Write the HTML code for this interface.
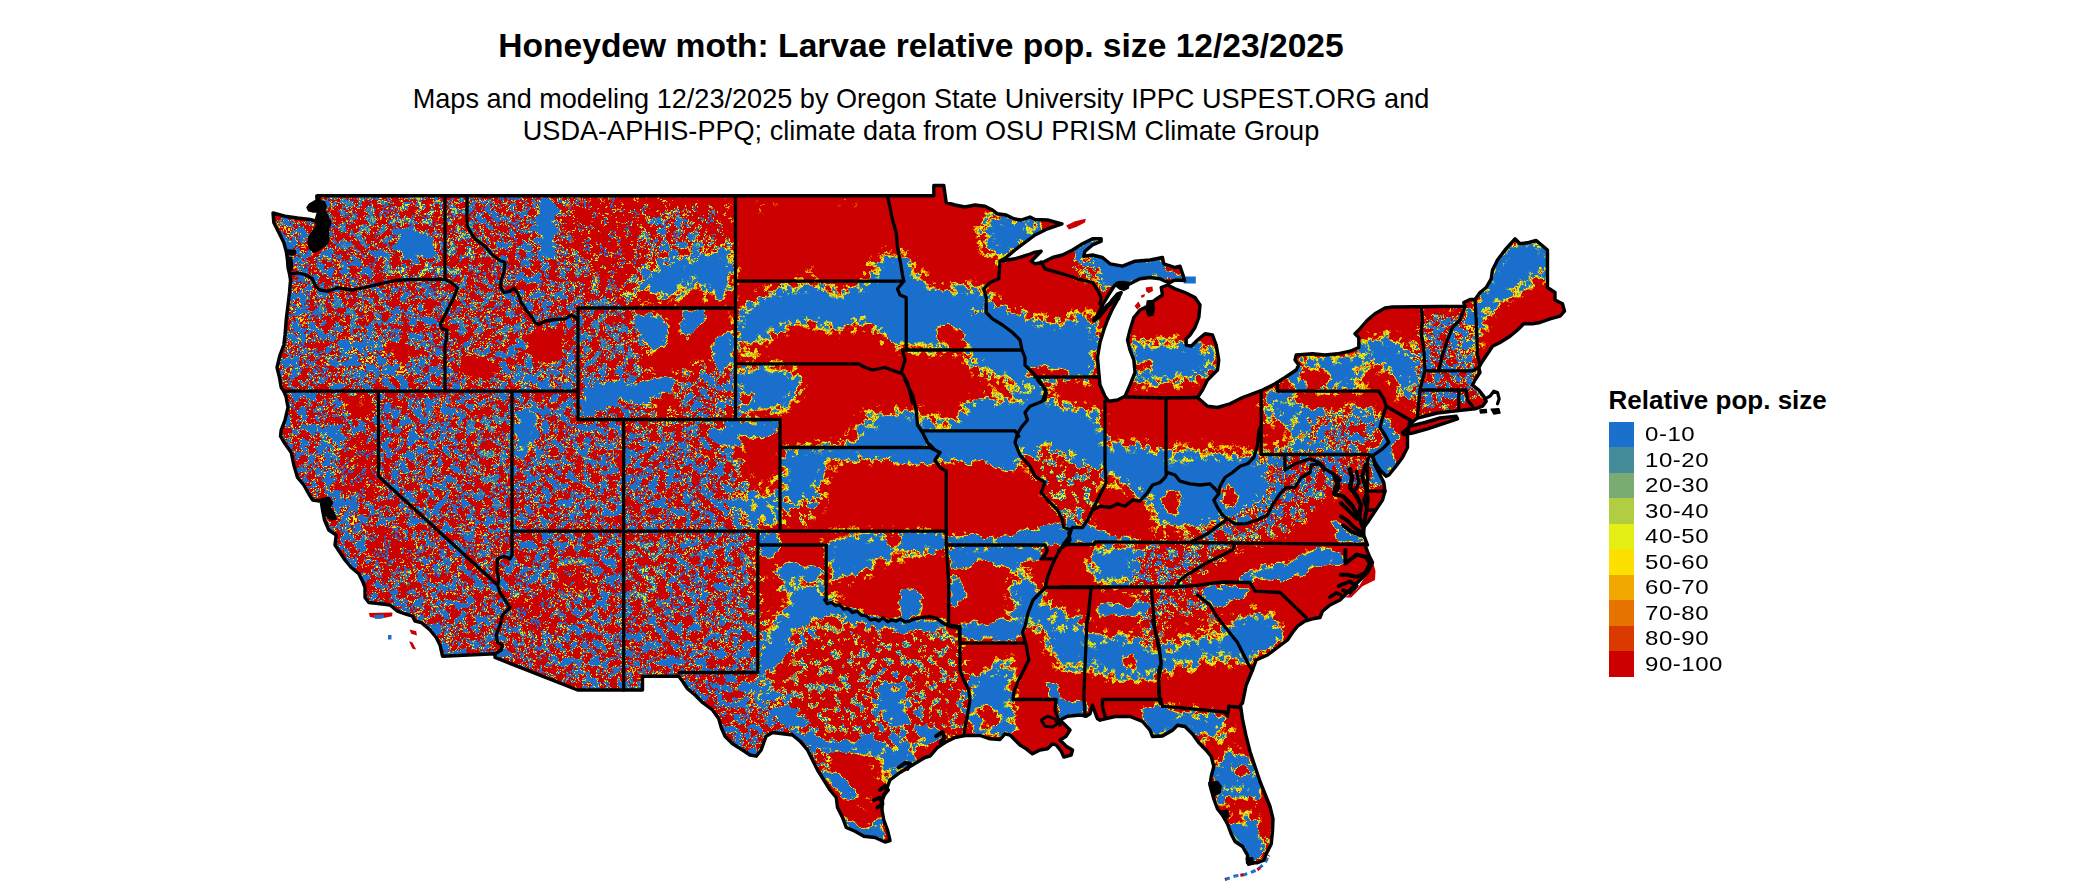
<!DOCTYPE html>
<html><head><meta charset="utf-8"><title>Honeydew moth</title>
<style>
html,body{margin:0;padding:0;background:#fff;}
body{width:2100px;height:892px;position:relative;overflow:hidden;font-family:"Liberation Sans",sans-serif;color:#000;}
#title{position:absolute;left:0;width:1842px;top:27px;text-align:center;font-size:33.6px;font-weight:bold;line-height:38px;white-space:nowrap;}
#sub{position:absolute;left:0;width:1842px;top:83px;text-align:center;font-size:27.1px;line-height:32px;white-space:nowrap;}
#lt{position:absolute;left:1608.6px;top:385px;font-size:26px;font-weight:bold;line-height:30px;white-space:nowrap;}
.sw{position:absolute;left:1609px;width:25px;height:25.6px;}
.lb{position:absolute;left:1645px;font-size:21px;line-height:26px;letter-spacing:0.45px;white-space:nowrap;transform:scaleX(1.145);transform-origin:0 0;}
svg{position:absolute;left:0;top:0;}
</style></head><body>
<div id="title">Honeydew moth: Larvae relative pop. size 12/23/2025</div>
<div id="sub">Maps and modeling 12/23/2025 by Oregon State University IPPC USPEST.ORG and<br>USDA-APHIS-PPQ; climate data from OSU PRISM Climate Group</div>
<svg width="2100" height="892" viewBox="0 0 2100 892">
<defs>
<clipPath id="usclip"><path d="M317.0,195.8 L933.8,195.8 L933.8,185.5 L943.8,185.5 L946.2,202.5 L955.0,205.0 L965.0,207.0 L975.0,205.0 L985.0,206.2 L992.5,210.0 L997.5,213.8 L1006.2,215.0 L1013.8,218.8 L1021.2,220.0 L1030.0,217.0 L1035.0,219.5 L1047.5,220.0 L1062.0,223.8 L1047.5,228.8 L1035.0,235.0 L1025.0,242.5 L1015.0,250.0 L1006.2,257.5 L1000.0,261.2 L1015.0,258.8 L1027.5,255.0 L1033.8,252.5 L1041.2,251.2 L1035.0,257.5 L1031.2,261.2 L1035.0,263.8 L1042.5,262.5 L1052.5,257.5 L1062.5,255.0 L1072.5,250.0 L1082.5,243.8 L1092.5,238.8 L1101.2,238.8 L1101.2,241.2 L1092.5,245.0 L1085.0,251.2 L1083.8,256.2 L1092.5,255.0 L1102.5,257.5 L1110.0,263.8 L1122.5,266.2 L1135.0,261.2 L1150.0,260.0 L1162.5,257.5 L1163.8,263.8 L1175.0,267.5 L1180.0,266.2 L1183.2,275.5 L1184.5,280.5 L1175.0,280.0 L1170.0,282.5 L1165.0,281.2 L1160.0,278.8 L1150.0,277.5 L1140.0,278.8 L1132.5,282.5 L1127.5,285.0 L1120.0,282.5 L1115.0,285.0 L1110.0,292.5 L1106.2,298.8 L1102.5,305.0 L1098.8,312.5 L1094.5,320.0 L1098.8,317.5 L1105.0,310.0 L1111.2,301.2 L1117.5,293.8 L1121.2,292.5 L1117.5,300.0 L1112.5,308.8 L1107.5,320.0 L1103.8,330.0 L1100.0,342.5 L1097.5,357.5 L1098.8,372.5 L1100.0,385.0 L1105.0,396.2 L1108.8,401.2 L1117.5,400.0 L1125.0,396.2 L1130.0,385.0 L1135.0,372.5 L1133.8,360.0 L1130.0,350.0 L1127.5,340.0 L1130.0,330.0 L1133.8,317.5 L1140.0,310.0 L1147.5,306.2 L1155.0,300.0 L1162.5,295.0 L1161.2,287.5 L1167.5,285.0 L1175.0,288.8 L1185.0,292.5 L1195.0,297.5 L1200.0,305.0 L1198.8,317.5 L1195.0,327.5 L1190.0,335.0 L1186.2,338.8 L1186.2,345.0 L1191.2,346.2 L1197.5,340.0 L1205.0,333.8 L1212.5,335.0 L1216.2,345.0 L1218.8,360.0 L1217.5,370.0 L1212.5,375.0 L1207.5,380.0 L1202.5,390.0 L1197.5,397.5 L1207.5,406.2 L1217.5,407.5 L1230.0,403.8 L1242.5,397.5 L1252.5,393.8 L1262.5,390.0 L1275.0,383.8 L1285.0,377.5 L1296.2,370.0 L1298.8,365.0 L1295.0,360.0 L1296.2,355.0 L1312.5,353.8 L1325.0,355.0 L1337.5,353.8 L1350.0,351.2 L1358.8,347.5 L1358.8,337.5 L1355.0,333.8 L1358.8,330.0 L1367.5,320.0 L1375.0,313.8 L1385.0,308.0 L1392.5,307.0 L1465.0,306.2 L1463.8,302.5 L1470.0,299.5 L1475.0,299.5 L1480.0,292.5 L1486.2,287.5 L1491.2,278.8 L1492.5,270.0 L1497.5,260.0 L1505.0,250.0 L1515.0,238.8 L1520.0,243.8 L1528.8,242.5 L1536.2,240.5 L1547.5,250.0 L1547.5,287.5 L1555.0,292.5 L1555.0,300.0 L1562.5,303.8 L1564.5,311.2 L1560.0,316.2 L1550.0,318.8 L1540.0,322.5 L1532.5,323.8 L1523.8,323.8 L1517.5,330.0 L1510.0,336.2 L1500.0,342.5 L1492.5,346.2 L1487.5,353.8 L1482.5,361.2 L1478.8,367.5 L1480.0,372.5 L1475.0,380.0 L1472.5,385.0 L1478.8,390.0 L1483.8,396.2 L1486.2,401.2 L1482.5,406.2 L1475.0,408.8 L1458.8,410.5 L1437.5,413.0 L1417.5,418.0 L1410.0,423.8 L1410.0,420.0 L1407.5,435.0 L1407.5,447.5 L1402.5,457.5 L1395.0,467.5 L1388.8,475.0 L1386.2,476.2 L1380.0,470.0 L1375.0,462.5 L1372.5,456.2 L1375.0,465.0 L1378.8,472.5 L1383.8,482.5 L1385.0,491.2 L1382.5,500.0 L1377.5,507.5 L1372.5,515.0 L1367.5,522.5 L1363.8,527.5 L1363.8,535.0 L1367.5,545.0 L1365.0,545.0 L1368.8,555.0 L1372.5,562.5 L1367.5,572.5 L1360.0,580.0 L1350.0,590.0 L1340.0,600.0 L1330.0,605.0 L1322.5,611.2 L1320.0,617.5 L1312.5,618.8 L1305.0,621.2 L1297.5,626.2 L1292.5,632.5 L1287.5,640.0 L1277.5,647.5 L1267.5,655.0 L1256.2,660.0 L1252.5,670.0 L1246.2,685.0 L1242.5,703.0 L1240.5,705.2 L1242.5,719.0 L1246.2,736.5 L1250.0,751.5 L1255.0,766.5 L1260.0,781.5 L1265.0,794.0 L1270.0,806.5 L1273.0,819.0 L1272.5,831.5 L1271.2,844.0 L1266.2,854.0 L1263.8,860.2 L1257.5,862.8 L1247.5,862.8 L1247.5,855.2 L1242.5,846.5 L1235.0,841.5 L1231.2,834.0 L1227.5,824.0 L1222.5,815.2 L1217.5,809.0 L1213.8,799.0 L1210.0,785.2 L1211.2,776.5 L1213.8,766.5 L1211.2,756.5 L1206.2,750.2 L1198.8,742.8 L1192.5,734.0 L1185.0,726.5 L1177.5,725.2 L1172.5,730.2 L1162.5,736.0 L1152.5,736.5 L1150.0,730.2 L1142.5,721.5 L1130.0,716.5 L1115.0,716.5 L1100.0,720.2 L1097.5,718.8 L1095.0,712.5 L1092.5,705.0 L1090.0,713.8 L1086.2,716.2 L1080.0,715.0 L1067.5,716.2 L1060.0,720.0 L1065.0,725.0 L1070.0,730.0 L1066.2,736.2 L1060.0,740.0 L1066.2,746.2 L1072.5,750.0 L1071.2,755.0 L1063.8,757.0 L1061.2,751.2 L1056.2,745.0 L1052.5,743.8 L1047.5,748.8 L1040.0,750.0 L1032.5,753.8 L1026.2,748.8 L1020.0,745.0 L1015.0,740.0 L1010.0,735.0 L1005.0,733.8 L1000.0,739.5 L990.0,738.8 L980.0,735.5 L965.0,735.5 L955.0,737.5 L945.0,742.5 L937.5,747.5 L930.0,756.2 L925.0,757.5 L912.5,765.0 L900.0,772.5 L890.0,780.0 L886.2,790.0 L882.5,800.0 L882.0,810.0 L883.8,820.0 L887.5,830.0 L890.0,840.5 L885.0,842.0 L875.0,837.5 L863.8,836.2 L855.0,831.2 L846.2,827.5 L842.5,817.5 L837.5,807.5 L836.2,797.5 L830.0,790.0 L823.8,780.0 L817.5,770.0 L812.5,760.0 L807.5,750.0 L800.0,741.2 L792.5,735.0 L782.5,733.8 L772.5,732.5 L766.2,736.2 L763.8,742.5 L761.2,750.0 L756.2,756.2 L750.0,755.0 L742.5,750.0 L732.5,743.8 L725.0,736.2 L721.2,727.5 L718.8,718.8 L712.5,710.0 L702.5,702.5 L695.0,695.0 L687.5,688.8 L682.5,681.2 L678.8,676.2 L642.5,676.2 L642.5,690.0 L620.0,690.0 L642.5,690.0 L577.5,690.0 L495.0,657.5 L495.0,653.8 L442.5,656.2 L440.0,645.0 L436.2,637.5 L430.0,630.0 L421.2,622.5 L415.0,621.2 L412.5,616.2 L405.0,613.8 L397.5,611.2 L390.0,605.0 L380.0,603.8 L368.8,602.5 L365.0,597.5 L365.0,587.5 L362.5,581.2 L358.8,573.8 L351.2,567.5 L345.0,560.0 L340.0,552.5 L335.0,545.0 L336.2,535.0 L328.8,530.0 L324.5,520.0 L322.5,510.0 L321.2,501.2 L312.5,500.0 L308.8,493.8 L303.8,485.0 L297.5,477.5 L293.8,465.0 L291.2,452.5 L285.0,443.8 L280.5,436.2 L281.2,430.0 L285.0,420.0 L288.0,407.5 L286.2,397.5 L283.8,391.2 L281.2,387.5 L279.5,377.5 L277.0,367.5 L280.0,355.0 L283.8,345.0 L285.0,335.0 L286.2,320.0 L288.0,305.0 L289.5,292.5 L290.5,280.0 L289.5,273.8 L288.0,267.5 L287.5,260.0 L286.2,251.2 L283.8,242.5 L278.8,232.5 L273.8,222.5 L273.0,213.0 L285.0,216.2 L297.5,218.0 L310.0,219.5 L316.2,221.2 L318.8,230.0 L316.2,240.0 L318.8,246.2 L323.8,241.2 L325.5,227.5 L324.5,217.5 L321.2,210.0 L318.8,202.5 L317.0,195.8Z M1402.5,432.5 L1410.0,426.2 L1425.0,422.5 L1440.0,418.0 L1456.2,416.2 L1457.5,418.8 L1442.5,423.8 L1427.5,428.8 L1412.5,433.0 L1403.8,434.5Z"/></clipPath>

<filter id="pb" filterUnits="userSpaceOnUse" x="200" y="120" width="1440" height="800" color-interpolation-filters="sRGB"><feGaussianBlur stdDeviation="9"/></filter>
<filter id="cm" filterUnits="userSpaceOnUse" x="250" y="170" width="1340" height="722" color-interpolation-filters="sRGB">
  <feGaussianBlur in="SourceGraphic" stdDeviation="2.4" result="b"/>
  <feColorMatrix in="b" type="matrix" values="1 0 0 0 0  1 0 0 0 0  1 0 0 0 0  0 0 0 0 1" result="FF"/>
  <feColorMatrix in="b" type="matrix" values="0 1 0 0 0  0 1 0 0 0  0 1 0 0 0  0 0 0 0 1" result="MM"/>
  <feTurbulence type="fractalNoise" baseFrequency="0.12" numOctaves="3" seed="7" result="n1"/>
  <feColorMatrix in="n1" type="matrix" values="4.0 0 0 0 -1.5  4.0 0 0 0 -1.5  4.0 0 0 0 -1.5  0 0 0 0 1" result="nn"/>
  <feComposite in="MM" in2="nn" operator="arithmetic" k1="0.5" k2="-0.25" k3="0" k4="0.25" result="a"/>
  <feComposite in="FF" in2="a" operator="arithmetic" k1="0" k2="0.5" k3="1" k4="0" result="f"/>
  <feColorMatrix in="b" type="matrix" values="0 0 1 0 0  0 0 1 0 0  0 0 1 0 0  0 0 0 0 1" result="SS"/>
  <feTurbulence type="fractalNoise" baseFrequency="0.45" numOctaves="2" seed="11" result="n2"/>
  <feColorMatrix in="n2" type="matrix" values="10.0 0 0 0 -4.5  10.0 0 0 0 -4.5  10.0 0 0 0 -4.5  0 0 0 0 1" result="nn2"/>
  <feComponentTransfer in="nn2" result="nb2"><feFuncR type="discrete" tableValues="0 1"/><feFuncG type="discrete" tableValues="0 1"/><feFuncB type="discrete" tableValues="0 1"/></feComponentTransfer>
  <feComposite in="SS" in2="nb2" operator="arithmetic" k1="0.5" k2="-0.25" k3="0" k4="0.25" result="a2"/>
  <feComposite in="f" in2="a2" operator="arithmetic" k1="0" k2="1" k3="1" k4="-0.25" result="f2"/>
  <feComponentTransfer in="f2">
    <feFuncR type="discrete" tableValues="0.102 0.102 0.102 0.102 0.102 0.102 0.102 0.102 0.102 0.102 0.102 0.102 0.102 0.102 0.102 0.102 0.102 0.102 0.102 0.102 0.102 0.102 0.102 0.102 0.102 0.102 0.102 0.102 0.102 0.102 0.102 0.102 0.102 0.102 0.102 0.102 0.102 0.102 0.102 0.102 0.102 0.102 0.102 0.102 0.102 0.102 0.102 0.102 0.102 0.102 0.102 0.102 0.102 0.102 0.102 0.102 0.102 0.102 0.102 0.102 0.102 0.102 0.102 0.102 0.102 0.102 0.102 0.102 0.102 0.102 0.102 0.102 0.102 0.102 0.102 0.102 0.102 0.102 0.102 0.102 0.102 0.102 0.102 0.102 0.102 0.102 0.102 0.102 0.271 0.271 0.271 0.478 0.478 0.478 0.694 0.694 0.694 0.898 0.898 0.898 0.984 0.984 0.984 0.941 0.941 0.941 0.902 0.902 0.902 0.855 0.855 0.855 0.800 0.800 0.800 0.800 0.800 0.800 0.800 0.800 0.800 0.800 0.800 0.800 0.800 0.800 0.800 0.800 0.800 0.800 0.800 0.800 0.800 0.800 0.800 0.800 0.800 0.800 0.800 0.800 0.800 0.800 0.800 0.800 0.800 0.800 0.800 0.800 0.800 0.800 0.800 0.800 0.800 0.800 0.800 0.800 0.800 0.800 0.800 0.800 0.800 0.800 0.800 0.800 0.800 0.800 0.800 0.800 0.800 0.800 0.800 0.800 0.800 0.800 0.800 0.800 0.800 0.800 0.800 0.800 0.800 0.800 0.800 0.800 0.800 0.800 0.800 0.800 0.800 0.800 0.800 0.800 0.800 0.800 0.800 0.800 0.800 0.800 0.800 0.800"/>
    <feFuncG type="discrete" tableValues="0.439 0.439 0.439 0.439 0.439 0.439 0.439 0.439 0.439 0.439 0.439 0.439 0.439 0.439 0.439 0.439 0.439 0.439 0.439 0.439 0.439 0.439 0.439 0.439 0.439 0.439 0.439 0.439 0.439 0.439 0.439 0.439 0.439 0.439 0.439 0.439 0.439 0.439 0.439 0.439 0.439 0.439 0.439 0.439 0.439 0.439 0.439 0.439 0.439 0.439 0.439 0.439 0.439 0.439 0.439 0.439 0.439 0.439 0.439 0.439 0.439 0.439 0.439 0.439 0.439 0.439 0.439 0.439 0.439 0.439 0.439 0.439 0.439 0.439 0.439 0.439 0.439 0.439 0.439 0.439 0.439 0.439 0.439 0.439 0.439 0.439 0.439 0.439 0.549 0.549 0.549 0.671 0.671 0.671 0.804 0.804 0.804 0.933 0.933 0.933 0.878 0.878 0.878 0.659 0.659 0.659 0.451 0.451 0.451 0.227 0.227 0.227 0.000 0.000 0.000 0.000 0.000 0.000 0.000 0.000 0.000 0.000 0.000 0.000 0.000 0.000 0.000 0.000 0.000 0.000 0.000 0.000 0.000 0.000 0.000 0.000 0.000 0.000 0.000 0.000 0.000 0.000 0.000 0.000 0.000 0.000 0.000 0.000 0.000 0.000 0.000 0.000 0.000 0.000 0.000 0.000 0.000 0.000 0.000 0.000 0.000 0.000 0.000 0.000 0.000 0.000 0.000 0.000 0.000 0.000 0.000 0.000 0.000 0.000 0.000 0.000 0.000 0.000 0.000 0.000 0.000 0.000 0.000 0.000 0.000 0.000 0.000 0.000 0.000 0.000 0.000 0.000 0.000 0.000 0.000 0.000 0.000 0.000 0.000 0.000"/>
    <feFuncB type="discrete" tableValues="0.800 0.800 0.800 0.800 0.800 0.800 0.800 0.800 0.800 0.800 0.800 0.800 0.800 0.800 0.800 0.800 0.800 0.800 0.800 0.800 0.800 0.800 0.800 0.800 0.800 0.800 0.800 0.800 0.800 0.800 0.800 0.800 0.800 0.800 0.800 0.800 0.800 0.800 0.800 0.800 0.800 0.800 0.800 0.800 0.800 0.800 0.800 0.800 0.800 0.800 0.800 0.800 0.800 0.800 0.800 0.800 0.800 0.800 0.800 0.800 0.800 0.800 0.800 0.800 0.800 0.800 0.800 0.800 0.800 0.800 0.800 0.800 0.800 0.800 0.800 0.800 0.800 0.800 0.800 0.800 0.800 0.800 0.800 0.800 0.800 0.800 0.800 0.800 0.608 0.608 0.608 0.447 0.447 0.447 0.259 0.259 0.259 0.082 0.082 0.082 0.000 0.000 0.000 0.000 0.000 0.000 0.000 0.000 0.000 0.000 0.000 0.000 0.000 0.000 0.000 0.000 0.000 0.000 0.000 0.000 0.000 0.000 0.000 0.000 0.000 0.000 0.000 0.000 0.000 0.000 0.000 0.000 0.000 0.000 0.000 0.000 0.000 0.000 0.000 0.000 0.000 0.000 0.000 0.000 0.000 0.000 0.000 0.000 0.000 0.000 0.000 0.000 0.000 0.000 0.000 0.000 0.000 0.000 0.000 0.000 0.000 0.000 0.000 0.000 0.000 0.000 0.000 0.000 0.000 0.000 0.000 0.000 0.000 0.000 0.000 0.000 0.000 0.000 0.000 0.000 0.000 0.000 0.000 0.000 0.000 0.000 0.000 0.000 0.000 0.000 0.000 0.000 0.000 0.000 0.000 0.000 0.000 0.000 0.000 0.000"/>
  </feComponentTransfer>
</filter>
</defs>
<g clip-path="url(#usclip)">
<g filter="url(#cm)">
<rect x="200" y="120" width="1440" height="800" fill="#ff660f"/>
<g filter="url(#pb)">
<rect x="200" y="120" width="1440" height="800" fill="#ff660f"/>
<path d="M260.0,185.0 L620.0,185.0 L625.0,310.0 L640.0,310.0 L650.0,420.0 L730.0,425.0 L745.0,480.0 L740.0,530.0 L757.0,532.0 L757.0,672.0 L800.0,700.0 L830.0,765.0 L760.0,775.0 L640.0,705.0 L440.0,705.0 L260.0,500.0Z" fill="#8ce680"/>
<path d="M736.6,311.5 L753.3,299.9 L770.0,291.6 L786.6,286.6 L803.2,285.2 L819.9,284.6 L829.9,287.2 L836.5,296.6 L846.5,291.6 L859.9,286.6 L876.5,283.9 L877.2,263.2 L884.8,254.9 L896.5,248.3 L903.8,246.6 L903.8,346.5 L896.5,346.5 L886.5,343.2 L876.5,331.5 L869.9,321.5 L863.2,316.5 L853.2,326.5 L843.2,331.5 L829.9,328.2 L816.6,323.2 L806.6,319.9 L796.6,323.2 L779.9,329.9 L763.3,339.8 L750.0,349.8 L736.6,354.8Z" fill="#005c0f"/>
<path d="M903.8,246.6 L906.5,251.6 L910.5,266.6 L919.8,276.6 L933.1,286.6 L939.8,293.9 L953.1,287.2 L966.4,285.9 L979.7,287.2 L986.4,291.6 L996.4,306.5 L1006.4,308.9 L1016.4,310.5 L1026.4,316.5 L1039.7,320.5 L1053.0,323.9 L1066.3,319.9 L1079.6,313.9 L1089.6,311.9 L1098.0,321.5 L1096.3,339.8 L1095.6,359.8 L1098.0,377.1 L1039.7,377.1 L1036.3,369.8 L1026.4,366.5 L1021.4,353.2 L1019.7,349.2 L903.8,349.2Z" fill="#005c0f"/>
<path d="M966.4,356.5 L979.7,353.2 L996.4,351.5 L1019.7,350.5 L1023.7,366.5 L1029.7,376.5 L1039.7,383.1 L1044.7,393.1 L1039.7,399.8 L1029.7,396.4 L1019.7,386.5 L1006.4,379.8 L993.1,376.5 L979.7,373.1 L969.8,366.5Z" fill="#005c0f"/>
<path d="M919.8,406.4 L926.5,413.1 L936.5,423.1 L949.8,428.1 L959.8,413.1 L969.8,399.8 L986.4,396.4 L1003.0,401.4 L1019.7,399.8 L1033.0,396.4 L1041.3,401.4 L1029.7,409.8 L1026.4,426.4 L1016.4,430.4 L923.1,430.4Z" fill="#005c0f"/>
<path d="M923.1,430.4 L1016.4,430.4 L1019.7,446.4 L1013.0,456.4 L999.7,453.1 L986.4,456.4 L966.4,451.4 L953.1,456.4 L939.8,456.4 L933.1,446.4Z" fill="#005c0f"/>
<path d="M1039.7,377.1 L1098.0,377.1 L1103.0,383.1 L1103.6,477.0 L1033.0,477.0 L1026.4,459.7 L1019.7,446.4 L1016.4,430.4 L1026.4,426.4 L1029.7,409.8 L1041.3,401.4 L1044.7,393.1 L1039.7,383.1Z" fill="#005c0f"/>
<path d="M1041.3,379.8 L1053.0,379.1 L1073.0,379.8 L1096.3,379.8 L1103.0,386.5 L1103.0,409.8 L1093.0,413.1 L1083.0,406.4 L1069.7,409.8 L1056.3,403.1 L1046.3,396.4Z" fill="#ff5c0f"/>
<path d="M863.2,413.1 L879.8,409.8 L899.8,413.1 L916.5,409.8 L919.8,426.4 L926.5,443.1 L933.1,456.4 L919.8,458.1 L886.5,456.4 L853.2,458.1 L829.9,459.7 L803.2,458.1 L786.6,456.4 L786.6,449.1 L819.9,446.4 L853.2,443.1 L859.9,433.1 L856.5,419.8Z" fill="#005c0f"/>
<path d="M868.2,414.8 L883.2,413.1 L886.5,426.4 L876.5,434.8 L868.2,428.1Z" fill="#80401a"/>
<path d="M736.6,366.5 L760.0,365.8 L786.6,367.1 L798.3,373.1 L801.6,386.5 L796.6,399.8 L786.6,406.4 L773.3,409.8 L760.0,413.1 L746.6,416.4 L736.6,418.1Z" fill="#005c0f"/>
<path d="M986.4,215.0 L1003.0,215.0 L1019.7,219.3 L1036.3,220.6 L1059.7,223.3 L1039.7,233.9 L1019.7,246.6 L1006.4,258.3 L998.1,263.2 L991.4,251.6 L994.7,239.9 L986.4,229.9 L981.4,220.0Z" fill="#005c0f"/>
<path d="M974.8,216.6 L986.4,215.0 L986.4,229.9 L994.7,239.9 L991.4,251.6 L996.4,263.2 L986.4,264.9 L981.4,246.6 L973.1,229.9Z" fill="#80401a"/>
<path d="M1081.3,254.9 L1089.6,246.6 L1101.3,239.9 L1103.0,248.3 L1112.9,257.3 L1129.6,263.2 L1159.9,259.9 L1159.9,276.6 L1146.2,278.2 L1132.9,279.9 L1119.6,283.2 L1109.6,279.9 L1096.3,276.6 L1086.3,270.6 L1079.6,263.2Z" fill="#005c0f"/>
<path d="M750.0,203.3 L763.3,198.3 L779.9,200.0 L783.3,206.6 L773.3,213.3 L763.3,216.6 L753.3,211.6Z" fill="#80401a"/>
<path d="M816.6,197.3 L866.5,197.3 L868.2,205.0 L853.2,206.6 L833.2,206.0 L819.9,201.7Z" fill="#6b401a"/>
<path d="M798.3,263.2 L806.6,251.6 L816.6,259.9 L813.2,273.2 L803.2,274.9Z" fill="#80401a"/>
<path d="M856.5,276.6 L859.9,264.9 L869.9,259.9 L878.2,263.2 L876.5,279.9Z" fill="#80401a"/>
<path d="M1129.3,331.6 L1140.0,336.6 L1150.0,346.6 L1163.3,343.2 L1171.6,337.2 L1183.2,343.9 L1189.9,348.2 L1199.9,341.6 L1211.6,346.6 L1217.2,361.5 L1214.9,374.9 L1199.9,373.2 L1191.6,381.5 L1179.9,379.9 L1166.6,386.5 L1153.3,381.5 L1140.0,384.9 L1131.6,386.5 L1133.3,373.2 L1127.3,349.9Z" fill="#005c0f"/>
<path d="M1163.3,366.5 L1176.6,364.9 L1179.9,373.2 L1168.3,376.5Z" fill="#80401a"/>
<path d="M1096.7,449.8 L1106.7,449.8 L1116.7,443.1 L1130.0,446.4 L1140.0,443.1 L1153.3,449.8 L1164.9,446.4 L1164.9,479.8 L1153.3,486.4 L1140.0,496.4 L1130.0,503.1 L1120.0,496.4 L1116.7,483.1 L1106.7,476.4 L1096.7,476.4Z" fill="#005c0f"/>
<path d="M1168.3,449.8 L1176.6,443.1 L1183.2,456.4 L1189.9,463.1 L1196.6,449.8 L1199.9,439.8 L1206.6,443.1 L1209.9,459.8 L1219.9,456.4 L1226.5,446.4 L1233.2,449.8 L1239.9,459.8 L1249.8,456.4 L1256.5,449.8 L1259.2,463.1 L1246.5,469.8 L1233.2,476.4 L1223.2,483.1 L1213.2,486.4 L1199.9,483.1 L1186.6,479.8 L1176.6,476.4 L1168.3,473.1Z" fill="#005c0f"/>
<path d="M1150.0,486.4 L1166.6,476.4 L1186.6,481.4 L1199.9,484.8 L1213.2,488.1 L1216.5,496.4 L1213.2,509.7 L1219.9,519.7 L1216.5,527.0 L1150.0,527.0 L1156.6,513.0 L1150.0,503.1Z" fill="#005c0f"/>
<path d="M1226.5,483.1 L1239.9,469.8 L1256.5,463.1 L1261.5,456.4 L1279.8,459.8 L1286.5,469.8 L1276.5,483.1 L1266.5,496.4 L1256.5,509.7 L1249.8,527.0 L1226.5,527.0 L1233.2,509.7 L1219.9,496.4Z" fill="#005c0f"/>
<path d="M1263.2,393.2 L1279.8,389.8 L1279.8,393.2 L1299.8,403.2 L1316.5,406.5 L1333.1,409.8 L1353.1,406.5 L1366.4,403.2 L1383.0,416.5 L1386.4,429.8 L1376.4,443.1 L1359.7,449.8 L1333.1,453.1 L1299.8,453.1 L1263.2,454.8Z" fill="#005c0f"/>
<path d="M1264.8,423.1 L1279.8,416.5 L1294.8,426.5 L1296.5,439.8 L1283.2,446.4 L1266.5,443.1Z" fill="#ff5c0f"/>
<path d="M1306.5,416.5 L1333.1,419.8 L1359.7,416.5 L1379.7,426.5 L1373.1,439.8 L1346.4,443.1 L1319.8,443.1 L1306.5,433.1Z" fill="#99e680"/>
<path d="M1296.5,356.5 L1326.4,358.2 L1346.4,354.9 L1359.7,346.6 L1366.4,339.9 L1376.4,336.6 L1389.7,333.2 L1399.7,343.2 L1413.0,356.5 L1419.7,363.2 L1418.0,389.8 L1413.0,403.2 L1399.7,396.5 L1389.7,386.5 L1379.7,389.8 L1279.8,389.8 L1281.5,383.2 L1296.5,369.9Z" fill="#005c0f"/>
<path d="M1353.1,366.5 L1376.4,361.5 L1393.0,369.9 L1399.7,383.2 L1386.4,388.2 L1363.1,386.5Z" fill="#ff5c0f"/>
<path d="M1366.4,313.2 L1386.4,309.9 L1416.3,311.6 L1418.0,329.9 L1399.7,333.2 L1383.0,329.9 L1369.7,336.6 L1363.1,326.6Z" fill="#ff5c0f"/>
<path d="M1476.3,299.9 L1486.3,279.9 L1496.3,260.0 L1516.2,238.3 L1566.2,238.3 L1566.2,273.3 L1547.5,275.0 L1532.9,279.9 L1519.6,288.3 L1506.3,299.9 L1492.9,309.9 L1483.0,323.2 L1476.3,339.9 L1474.6,363.2 L1466.3,369.9 L1459.6,356.5 L1466.3,329.9 L1469.6,306.6Z" fill="#005c0f"/>
<path d="M1539.6,250.0 L1547.9,250.0 L1547.9,273.3 L1539.6,271.6Z" fill="#739966"/>
<path d="M1421.3,309.9 L1461.3,308.3 L1466.3,329.9 L1459.6,356.5 L1466.3,369.9 L1483.0,376.5 L1486.3,396.5 L1466.3,403.2 L1439.7,411.5 L1418.0,414.8 L1419.7,363.2Z" fill="#80e680"/>
<path d="M1279.8,459.8 L1313.1,458.1 L1333.1,459.8 L1353.1,463.1 L1366.4,459.8 L1369.7,483.1 L1359.7,489.7 L1346.4,483.1 L1333.1,493.1 L1319.8,496.4 L1313.1,483.1 L1299.8,469.8 L1286.5,469.8Z" fill="#66e680"/>
<path d="M1039.9,486.6 L1056.5,480.0 L1073.2,485.0 L1089.8,480.0 L1103.8,483.3 L1099.8,496.6 L1093.1,509.9 L1086.5,523.2 L1073.2,531.6 L1066.5,536.6 L1061.5,526.6 L1056.5,513.3 L1046.5,499.9Z" fill="#005c0f"/>
<path d="M1033.2,450.0 L1049.8,446.7 L1066.5,453.3 L1076.5,466.6 L1073.2,480.0 L1056.5,481.6 L1043.2,476.6 L1034.9,463.3Z" fill="#d9cc0f"/>
<path d="M1099.8,486.6 L1116.5,480.0 L1133.1,489.9 L1129.8,503.3 L1113.1,509.9 L1096.5,506.6Z" fill="#ff5c0f"/>
<path d="M1166.4,476.6 L1183.0,483.3 L1199.7,486.6 L1213.0,483.3 L1216.3,496.6 L1224.7,516.6 L1213.0,526.6 L1199.7,523.2 L1193.0,513.3 L1183.0,506.6 L1173.1,496.6 L1163.1,489.9Z" fill="#005c0f"/>
<path d="M1094.8,546.6 L1133.1,545.9 L1143.1,549.9 L1139.8,559.9 L1133.1,566.5 L1139.8,573.2 L1133.1,584.9 L1096.5,585.9 L1094.8,573.2 L1086.5,559.9Z" fill="#005c0f"/>
<path d="M1143.1,546.6 L1233.0,545.9 L1219.7,556.5 L1199.7,569.9 L1179.7,583.2 L1139.8,585.9 L1133.1,573.2 L1139.8,559.9Z" fill="#80e680"/>
<path d="M1193.0,539.9 L1233.0,516.6 L1259.6,506.6 L1283.0,489.9 L1316.2,460.0 L1339.9,453.3 L1339.9,473.3 L1326.2,486.6 L1299.6,513.3 L1266.3,536.6 L1233.0,544.9 L1199.7,545.9Z" fill="#9ee680"/>
<path d="M1219.7,476.6 L1233.0,470.0 L1249.7,456.6 L1259.6,453.3 L1266.3,466.6 L1259.6,483.3 L1246.3,496.6 L1233.0,506.6 L1228.0,519.9 L1219.7,513.3 L1214.7,496.6Z" fill="#005c0f"/>
<path d="M1163.1,653.1 L1176.4,643.1 L1189.7,636.5 L1206.4,639.8 L1219.7,633.1 L1233.0,626.5 L1243.0,613.2 L1256.3,609.8 L1269.6,616.5 L1283.0,626.5 L1286.3,639.8 L1276.3,649.8 L1263.0,653.1 L1249.7,656.5 L1243.0,666.4 L1229.7,659.8 L1216.3,656.5 L1199.7,663.1 L1186.4,669.8 L1173.1,666.4 L1163.1,669.8Z" fill="#005c0f"/>
<path d="M1149.8,589.9 L1199.7,589.9 L1209.7,603.2 L1219.7,613.2 L1213.0,623.1 L1199.7,616.5 L1183.0,613.2 L1166.4,606.5 L1153.1,599.8Z" fill="#80e680"/>
<path d="M1094.8,639.8 L1106.5,633.1 L1119.8,639.8 L1133.1,636.5 L1146.4,643.1 L1163.1,653.1 L1163.1,669.8 L1153.1,679.8 L1133.1,676.4 L1116.5,679.8 L1099.8,673.1 L1089.8,666.4 L1086.5,653.1Z" fill="#005c0f"/>
<path d="M1139.8,589.9 L1163.1,589.9 L1166.4,606.5 L1163.1,639.8 L1146.4,639.8 L1143.1,613.2Z" fill="#99e680"/>
<path d="M1046.5,599.8 L1059.8,606.5 L1076.5,609.8 L1086.5,619.8 L1086.5,653.1 L1079.8,669.8 L1066.5,673.1 L1056.5,659.8 L1046.5,646.5 L1043.2,626.5 L1033.2,619.8 L1029.9,606.5Z" fill="#005c0f"/>
<path d="M1053.2,608.2 L1073.2,609.8 L1076.5,626.5 L1063.2,633.1 L1051.5,623.1Z" fill="#8c991a"/>
<path d="M1013.2,573.2 L1023.2,569.9 L1036.5,579.9 L1039.9,596.5 L1033.2,613.2 L1026.5,626.5 L1016.5,636.5 L1009.9,626.5 L1013.2,606.5 L1011.6,589.9Z" fill="#005c0f"/>
<path d="M966.6,679.8 L979.9,669.8 L993.2,673.1 L999.9,659.8 L1009.9,653.1 L1014.9,673.1 L1009.9,693.1 L1013.2,713.1 L1016.5,737.0 L966.6,737.0 L969.9,706.4Z" fill="#005c0f"/>
<path d="M900.0,619.8 L959.9,626.5 L966.6,679.8 L966.6,737.0 L900.0,737.0Z" fill="#d1f233"/>
<path d="M1146.4,706.4 L1159.7,709.7 L1183.0,711.4 L1199.7,713.1 L1226.3,716.4 L1233.0,737.0 L1146.4,737.0Z" fill="#005c0f"/>
<path d="M782.4,449.9 L826.4,449.9 L836.4,456.6 L826.4,466.6 L823.1,479.9 L813.1,493.2 L806.4,503.2 L793.1,506.6 L782.4,503.2Z" fill="#005c0f"/>
<path d="M789.8,503.2 L806.4,499.9 L823.1,486.6 L826.4,499.9 L816.4,516.5 L803.1,526.5 L789.8,523.2Z" fill="#8cb21a"/>
<path d="M733.2,496.6 L746.5,489.9 L759.8,488.2 L776.5,489.9 L778.1,529.9 L759.8,528.2 L746.5,523.2 L733.2,513.2 L726.5,503.2Z" fill="#005c0f"/>
<path d="M748.1,501.6 L763.1,499.9 L766.5,511.6 L753.1,514.9Z" fill="#cccc0f"/>
<path d="M773.1,586.5 L789.8,579.8 L806.4,583.1 L824.7,586.5 L826.4,599.8 L843.0,606.5 L859.7,613.1 L853.0,619.8 L836.4,616.5 L823.1,613.1 L809.8,616.5 L799.8,626.4 L789.8,633.1 L773.1,639.8 L759.8,643.1 L759.8,629.8 L773.1,623.1 L786.4,613.1 L793.1,599.8 L783.1,593.1Z" fill="#005c0f"/>
<path d="M826.4,534.9 L853.0,533.9 L866.4,539.9 L859.7,549.9 L869.7,559.8 L866.4,573.2 L853.0,579.8 L839.7,576.5 L826.4,579.8Z" fill="#005c0f"/>
<path d="M869.7,629.8 L886.3,633.1 L903.0,639.8 L919.6,646.4 L936.3,639.8 L952.9,633.1 L959.6,646.4 L956.3,666.4 L943.0,673.1 L926.3,666.4 L909.6,663.1 L893.0,653.1 L879.7,646.4 L869.7,639.8Z" fill="#005c0f"/>
<path d="M789.9,628.3 L956.4,628.3 L959.7,694.9 L939.7,734.9 L873.1,744.9 L826.5,734.9 L789.9,704.9Z" fill="#d6f233"/>
<path d="M786.5,598.3 L826.5,598.3 L831.5,611.6 L813.2,625.0 L796.5,635.0 L783.2,645.0 L769.9,658.3 L760.5,661.6 L760.5,645.0 L779.9,631.6 L788.2,618.3Z" fill="#005c0f"/>
<path d="M746.6,683.2 L759.9,679.9 L773.2,686.6 L783.2,694.9 L786.5,704.9 L776.5,708.2 L763.2,704.9 L749.9,698.2Z" fill="#005c0f"/>
<path d="M869.8,694.9 L879.8,684.9 L893.1,678.2 L903.1,688.2 L909.7,701.6 L906.4,714.9 L916.4,724.9 L906.4,734.9 L893.1,728.2 L883.1,721.5 L873.1,711.5Z" fill="#005c0f"/>
<path d="M873.1,754.8 L886.4,744.9 L903.1,741.5 L916.4,744.9 L916.4,761.5 L906.4,771.5 L896.4,778.1 L886.4,781.5 L879.8,771.5Z" fill="#005c0f"/>
<path d="M853.1,793.1 L869.8,791.5 L873.1,808.1 L859.8,814.8Z" fill="#99991a"/>
<path d="M326.6,200.0 L393.2,200.0 L393.2,223.3 L386.5,246.6 L359.9,256.6 L333.3,246.6Z" fill="#9ee680"/>
<path d="M393.2,198.3 L443.1,198.3 L443.1,226.6 L426.5,226.6 L409.9,223.3 L393.2,226.6Z" fill="#b8e680"/>
<path d="M386.5,261.6 L443.1,259.9 L444.8,279.9 L386.5,279.9Z" fill="#bfe680"/>
<path d="M309.9,289.9 L369.9,286.6 L399.9,306.5 L386.5,329.9 L339.9,333.2 L313.3,319.9Z" fill="#99e680"/>
<path d="M446.5,200.0 L466.5,200.0 L473.1,229.9 L499.8,259.9 L499.8,276.6 L446.5,276.6Z" fill="#ade680"/>
<path d="M453.1,279.9 L499.8,279.9 L526.4,309.9 L526.4,346.5 L493.1,349.8 L459.8,346.5 L446.5,329.9Z" fill="#99e680"/>
<path d="M419.8,393.1 L466.5,393.1 L473.1,413.1 L459.8,436.4 L426.5,433.1 L413.2,413.1Z" fill="#54e680"/>
<path d="M466.5,413.1 L509.8,393.1 L509.8,477.0 L473.1,477.0Z" fill="#9ee680"/>
<path d="M646.5,223.3 L659.9,213.3 L676.5,216.6 L693.2,220.0 L706.5,223.3 L699.8,239.9 L686.5,253.3 L669.9,256.6 L653.2,253.3 L643.2,239.9Z" fill="#6be680"/>
<path d="M556.6,200.0 L619.9,200.0 L619.9,306.5 L556.6,306.5Z" fill="#99e680"/>
<path d="M619.9,200.0 L646.5,200.0 L646.5,263.2 L629.9,289.9 L619.9,306.5Z" fill="#cce680"/>
<path d="M579.9,308.2 L633.2,308.2 L633.2,373.1 L579.9,379.8Z" fill="#99e680"/>
<path d="M676.5,369.8 L733.1,366.5 L733.1,418.1 L676.5,418.1Z" fill="#73e680"/>
<path d="M396.7,405.8 L456.1,405.8 L456.1,459.3 L396.7,459.3Z" fill="#6be680"/>
<path d="M459.1,405.8 L509.6,405.8 L509.6,512.7 L485.8,512.7 L459.1,459.3Z" fill="#9ee680"/>
<path d="M628.4,536.5 L664.0,536.5 L664.0,607.8 L628.4,607.8Z" fill="#ade680"/>
<path d="M515.5,536.5 L622.5,536.5 L622.5,560.3 L515.5,560.3Z" fill="#8ce680"/>
<path d="M1031.4,465.1 L1049.4,467.7 L1070.1,465.1 L1101.0,467.7 L1101.0,488.3 L1093.3,503.8 L1085.5,514.1 L1075.2,519.2 L1064.9,519.2 L1057.2,508.9 L1044.3,493.5 L1036.5,478.0Z" fill="#dbf233"/>
<path d="M825.1,534.7 L946.3,534.7 L946.3,547.6 L930.8,555.4 L915.4,550.2 L899.9,557.9 L884.4,555.4 L874.1,565.7 L858.6,570.8 L843.1,560.5 L827.7,560.5Z" fill="#005c0f"/>
<path d="M1261.2,463.1 L1284.4,458.0 L1310.2,463.1 L1330.8,470.9 L1325.7,483.8 L1315.3,499.2 L1305.0,514.7 L1284.4,530.2 L1263.8,540.5 L1238.0,545.7 L1227.7,540.5 L1243.2,525.0 L1261.2,517.3 L1271.5,504.4 L1263.8,476.0Z" fill="#80e680"/>
<path d="M1284.4,458.0 L1346.3,458.0 L1346.3,481.2 L1330.8,470.9 L1310.2,463.1Z" fill="#66e680"/>
<path d="M1070.0,250.0 L1083.5,250.0 L1092.4,263.4 L1107.0,272.4 L1112.6,279.1 L1103.6,283.6 L1092.4,278.0 L1070.0,274.7Z" fill="#80994c"/>
<path d="M1214.0,760.9 L1232.6,753.5 L1256.7,762.8 L1262.3,787.0 L1256.7,801.9 L1245.6,790.7 L1232.6,792.6 L1225.1,807.4 L1217.7,792.6Z" fill="#005c0f"/>
<path d="M1223.3,820.5 L1238.1,816.7 L1253.0,820.5 L1260.5,813.0 L1267.9,827.9 L1266.0,850.2 L1253.0,857.7 L1241.9,854.0 L1230.7,835.4Z" fill="#005c0f"/>
<path d="M563.9,198.2 L733.0,198.2 L733.0,241.3 L702.9,250.7 L672.9,258.2 L650.3,265.8 L627.8,282.6 L609.0,293.9 L597.8,278.9 L582.7,260.1 L567.7,241.3 L560.2,218.8Z" fill="#e6b259"/>
<path d="M642.8,218.8 L665.4,211.3 L687.9,215.1 L702.9,222.6 L699.1,241.3 L680.4,256.4 L661.6,260.1 L646.6,248.8 L639.1,233.8Z" fill="#73cc66"/>
<path d="M625.9,293.9 L635.3,278.9 L650.3,267.6 L669.1,262.0 L687.9,258.2 L702.9,252.6 L719.8,247.0 L733.0,241.3 L733.0,278.9 L725.5,297.7 L717.9,303.3 L704.8,297.7 L702.9,282.6 L684.1,280.8 L682.2,297.7 L669.1,301.4 L654.1,297.7 L650.3,282.6 L639.1,293.9Z" fill="#005c0f"/>
</g>
<path d="M936.5,326.5 L949.8,323.2 L963.1,329.9 L964.8,346.5 L953.1,348.2 L939.8,343.2Z" fill="#ffa60f"/>
<path d="M1163.3,493.1 L1176.6,489.7 L1183.2,503.1 L1173.3,516.4 L1163.3,509.7Z" fill="#ffa60f"/>
<path d="M1286.5,394.8 L1313.1,393.2 L1333.1,396.5 L1359.7,394.8 L1376.4,393.2 L1366.4,403.2 L1333.1,406.5 L1306.5,404.8Z" fill="#ffa60f"/>
<path d="M1299.8,369.9 L1316.5,366.5 L1329.8,376.5 L1326.4,386.5 L1306.5,388.2Z" fill="#ffa60f"/>
<path d="M1199.7,591.5 L1213.0,586.5 L1233.0,586.5 L1249.7,588.2 L1248.0,596.5 L1233.0,599.8 L1219.7,606.5 L1209.7,603.2Z" fill="#00a60f"/>
<path d="M950.0,573.2 L959.9,579.9 L966.6,596.5 L956.6,606.5 L950.0,603.2Z" fill="#00a60f"/>
<path d="M900.0,589.9 L913.3,586.5 L923.3,596.5 L920.0,613.2 L906.7,619.8 L900.0,616.5Z" fill="#00a60f"/>
<path d="M978.3,709.7 L989.9,704.7 L999.9,713.1 L996.6,726.4 L983.2,728.0Z" fill="#ffa60f"/>
<path d="M1372.3,449.1 L1383.5,446.9 L1394.7,451.4 L1397.0,460.4 L1390.3,471.6 L1383.5,476.1 L1374.6,471.6 L1371.2,460.4Z" fill="#00a60f"/>
<path d="M709.9,433.3 L723.2,426.6 L736.5,430.0 L741.5,443.3 L733.2,449.9 L719.8,446.6Z" fill="#00a60f"/>
<path d="M759.8,653.1 L773.1,646.4 L786.4,639.8 L793.1,646.4 L783.1,659.7 L773.1,669.7 L759.8,671.4Z" fill="#00a60f"/>
<path d="M773.2,708.2 L786.5,706.6 L796.5,714.9 L803.2,728.2 L796.5,731.5 L786.5,724.9 L776.5,718.2Z" fill="#00a60f"/>
<path d="M919.7,728.2 L933.0,724.9 L939.7,734.9 L933.0,744.9 L923.0,741.5Z" fill="#00a60f"/>
<path d="M819.8,764.8 L833.1,771.5 L846.5,781.5 L856.5,794.8 L849.8,801.5 L839.8,794.8 L829.8,784.8 L821.5,776.5Z" fill="#00a60f"/>
<path d="M839.8,811.5 L849.8,821.4 L859.8,828.1 L873.1,824.8 L879.8,814.8 L886.4,834.8 L883.1,841.4 L866.4,838.1 L853.1,833.1 L843.1,824.8Z" fill="#00a60f"/>
<path d="M1225.0,756.5 L1235.0,754.0 L1247.5,759.0 L1255.0,769.0 L1260.0,784.0 L1262.5,799.0 L1260.0,804.0 L1252.5,796.5 L1247.5,786.5 L1240.0,779.0 L1232.5,774.0 L1225.0,769.0Z" fill="#00a60f"/>
<path d="M1230.0,824.0 L1240.0,831.5 L1250.0,834.0 L1260.0,829.0 L1265.0,824.0 L1262.5,844.0 L1260.0,859.0 L1250.0,861.5 L1245.0,851.5 L1237.5,844.0 L1232.5,834.0Z" fill="#00a60f"/>
<path d="M1372.1,447.7 L1387.5,445.1 L1395.3,458.0 L1387.5,470.9 L1377.2,473.5 L1370.8,463.1Z" fill="#00a60f"/>
<path d="M969.8,311.5 L979.7,306.5 L983.1,311.5 L974.8,316.5Z" fill="#ffa60f"/>
<path d="M1028.0,371.5 L1039.7,366.5 L1056.3,368.1 L1069.7,373.1 L1066.3,377.1 L1029.7,377.1Z" fill="#ffa60f"/>
<path d="M740.0,394.8 L751.6,393.1 L756.6,399.8 L748.3,403.8 L740.0,401.4Z" fill="#ffa60f"/>
<path d="M1100.0,258.3 L1113.3,263.3 L1133.3,261.6 L1159.9,258.3 L1166.6,270.0 L1179.9,273.3 L1194.9,278.3 L1194.9,283.3 L1176.6,279.9 L1166.6,278.3 L1156.6,276.6 L1143.3,279.9 L1130.0,283.3 L1116.7,286.6 L1106.7,288.3 L1100.0,289.9Z" fill="#00a60f"/>
<path d="M1138.3,361.5 L1150.0,359.9 L1153.3,368.2 L1143.3,371.5 L1136.6,368.2Z" fill="#ffa60f"/>
<path d="M1383.0,416.5 L1393.0,429.8 L1399.7,436.5 L1389.7,449.8 L1379.7,463.1 L1386.4,476.4 L1379.7,486.4 L1369.7,483.1 L1371.4,463.1 L1376.4,449.8 L1383.0,436.5Z" fill="#00a60f"/>
<path d="M943.3,440.0 L1016.5,440.0 L1016.5,471.6 L999.9,468.3 L983.2,460.6 L966.6,464.0 L943.3,458.3Z" fill="#00a60f"/>
<path d="M900.0,448.3 L936.6,450.0 L940.0,460.0 L920.0,465.0 L900.0,463.3Z" fill="#00a60f"/>
<path d="M1063.2,499.9 L1073.2,496.6 L1076.5,506.6 L1068.2,511.6Z" fill="#ffa60f"/>
<path d="M1063.2,529.9 L1073.2,523.2 L1086.5,524.9 L1099.8,529.9 L1113.1,536.6 L1133.1,539.9 L1139.8,543.2 L1093.1,543.2 L1063.2,543.2Z" fill="#00a60f"/>
<path d="M1219.7,496.6 L1233.0,489.9 L1236.3,499.9 L1228.0,509.9Z" fill="#ffa60f"/>
<path d="M1093.1,606.5 L1106.5,603.2 L1126.4,606.5 L1146.4,603.2 L1149.8,613.2 L1133.1,616.5 L1113.1,614.8 L1096.5,616.5Z" fill="#00a60f"/>
<path d="M1123.1,656.5 L1133.1,653.1 L1136.4,666.4 L1126.4,669.8Z" fill="#ffa60f"/>
<path d="M950.0,548.2 L1039.9,547.2 L1043.2,556.5 L1033.2,559.9 L1019.9,564.9 L1009.9,569.9 L999.9,566.5 L986.6,559.9 L973.3,563.2 L963.3,569.9 L950.0,568.2Z" fill="#00a60f"/>
<path d="M959.9,626.5 L973.3,621.5 L986.6,624.8 L999.9,619.8 L1013.2,626.5 L1019.9,639.8 L959.9,639.8Z" fill="#00a60f"/>
<path d="M900.0,533.2 L946.6,533.2 L946.6,546.6 L933.3,549.9 L920.0,546.6 L900.0,549.9Z" fill="#00a60f"/>
<path d="M950.0,536.6 L966.6,533.2 L986.6,538.2 L1006.6,536.6 L1026.5,529.9 L1043.2,526.6 L1059.8,519.9 L1066.5,536.6 L1059.8,544.9 L950.0,545.9Z" fill="#00a60f"/>
<path d="M1329.7,523.2 L1338.7,520.9 L1343.2,529.9 L1352.1,534.4 L1363.3,536.6 L1363.3,542.9 L1338.7,542.2 L1336.4,532.1Z" fill="#00a60f"/>
<path d="M1240.0,577.0 L1262.4,565.8 L1284.8,563.5 L1298.3,554.6 L1314.0,547.8 L1329.7,550.1 L1345.4,554.6 L1345.4,563.5 L1334.2,563.5 L1318.5,565.8 L1307.3,572.5 L1296.1,577.0 L1280.4,581.5 L1262.4,577.0 L1251.2,581.5 L1240.0,581.5Z" fill="#00a60f"/>
<path d="M782.4,449.3 L936.3,449.3 L943.0,463.3 L926.3,461.6 L909.6,456.6 L893.0,459.9 L876.4,458.3 L859.7,456.6 L843.0,458.3 L836.4,456.6Z" fill="#00a60f"/>
<path d="M773.1,566.5 L793.1,563.2 L813.1,566.5 L823.1,573.2 L813.1,579.8 L793.1,578.2 L776.5,576.5Z" fill="#00a60f"/>
<path d="M759.8,533.9 L779.8,533.9 L779.8,545.2 L773.1,556.5 L759.8,556.5Z" fill="#00a60f"/>
<path d="M826.4,599.8 L843.0,604.8 L859.7,611.5 L876.4,616.5 L893.0,619.8 L909.6,621.5 L926.3,618.1 L939.6,619.8 L949.6,626.4 L936.3,633.1 L919.6,629.8 L903.0,633.1 L886.3,629.8 L869.7,626.4 L853.0,621.5 L839.7,614.8 L826.4,609.8Z" fill="#00a60f"/>
<path d="M796.5,731.5 L813.2,734.9 L829.8,739.9 L846.5,741.5 L863.1,738.2 L873.1,734.9 L879.8,744.9 L873.1,754.8 L856.5,751.5 L839.8,753.2 L823.1,751.5 L806.5,744.9Z" fill="#00a60f"/>
<path d="M953.0,628.3 L973.0,625.0 L993.0,628.3 L1009.6,621.6 L1023.0,615.0 L1023.0,635.0 L1006.3,638.3 L986.3,636.6 L966.3,638.3Z" fill="#00a60f"/>
<path d="M1215.0,769.0 L1225.0,771.5 L1227.5,781.5 L1222.5,789.0 L1225.0,799.0 L1220.0,804.0 L1215.0,794.0Z" fill="#00a60f"/>
<path d="M1046.2,680.0 L1055.0,682.5 L1060.0,695.0 L1065.0,702.5 L1057.5,705.0 L1050.0,695.0Z" fill="#00a60f"/>
<path d="M398.2,229.9 L413.2,226.6 L426.5,233.3 L436.5,243.3 L434.8,256.6 L419.8,258.3 L406.5,259.9 L396.5,249.9Z" fill="#00990f"/>
<path d="M276.6,216.6 L290.0,223.3 L300.0,233.3 L306.6,246.6 L309.9,263.2 L306.6,276.6 L293.3,273.2 L290.0,256.6 L286.6,239.9 L280.0,229.9Z" fill="#4ce680"/>
<path d="M291.6,283.2 L306.6,283.2 L309.9,313.2 L303.3,346.5 L296.6,379.8 L283.3,379.8 L290.0,329.9Z" fill="#54e680"/>
<path d="M339.9,336.5 L369.9,331.5 L399.9,336.5 L416.5,353.2 L406.5,376.5 L373.2,383.1 L343.2,376.5 L333.3,356.5Z" fill="#4ce680"/>
<path d="M388.2,344.8 L406.5,341.5 L414.9,353.2 L406.5,363.1 L391.5,361.5Z" fill="#ff990f"/>
<path d="M526.4,336.5 L539.7,326.5 L559.7,329.9 L566.4,343.2 L559.7,359.8 L543.0,366.5 L529.7,356.5Z" fill="#ff990f"/>
<path d="M456.5,359.8 L473.1,353.2 L493.1,359.8 L499.8,373.1 L486.4,379.8 L466.5,379.8Z" fill="#ff990f"/>
<path d="M503.1,366.5 L526.4,363.1 L549.7,369.8 L576.4,366.5 L576.4,386.5 L543.0,388.1 L513.1,386.5Z" fill="#40e680"/>
<path d="M516.4,409.8 L534.7,406.4 L539.7,419.8 L536.4,436.4 L528.1,453.1 L519.7,454.7 L516.4,439.7Z" fill="#00b20f"/>
<path d="M343.2,396.4 L369.9,393.1 L374.9,409.8 L359.9,419.8 L344.9,413.1Z" fill="#ffb20f"/>
<path d="M319.9,433.1 L336.6,426.4 L346.6,443.1 L339.9,456.4 L326.6,458.1Z" fill="#00b20f"/>
<path d="M538.3,200.0 L553.3,198.3 L556.6,213.3 L551.6,229.9 L553.3,246.6 L543.3,246.6 L536.6,226.6Z" fill="#00990f"/>
<path d="M636.5,316.5 L653.2,313.2 L666.5,319.9 L669.9,336.5 L663.2,346.5 L649.9,349.8 L639.9,339.8Z" fill="#00990f"/>
<path d="M683.2,311.5 L703.1,309.9 L706.5,319.9 L696.5,329.9 L686.5,339.8 L679.8,329.9Z" fill="#00a60f"/>
<path d="M709.8,343.2 L719.8,336.5 L733.1,333.2 L733.1,366.5 L719.8,369.8 L713.1,359.8Z" fill="#00a60f"/>
<path d="M583.3,393.1 L596.6,383.1 L613.2,379.8 L629.9,383.1 L646.5,379.8 L663.2,376.5 L676.5,383.1 L666.5,393.1 L653.2,399.8 L636.5,403.1 L619.9,399.8 L606.6,406.4 L593.3,413.1 L581.6,416.4Z" fill="#00990f"/>
<path d="M726.5,422.4 L778.1,421.4 L778.1,433.1 L766.4,436.4 L753.1,438.1 L739.8,436.4 L726.5,436.4Z" fill="#00a60f"/>
<path d="M343.2,435.5 L372.9,441.4 L381.8,477.1 L372.9,503.8 L349.1,500.9 L337.2,465.2Z" fill="#d9e680"/>
<path d="M366.9,530.6 L396.7,527.6 L417.5,548.4 L411.5,572.2 L384.8,575.1 L366.9,554.3Z" fill="#dee680"/>
<path d="M316.4,441.4 L334.3,435.5 L340.2,465.2 L334.3,489.0 L319.4,483.0Z" fill="#4ce680"/>
<path d="M331.3,489.0 L355.1,494.9 L366.9,530.6 L349.1,536.5 L334.3,512.7Z" fill="#4ce680"/>
<path d="M512.5,595.9 L539.3,590.0 L557.1,607.8 L551.1,631.6 L521.4,634.5Z" fill="#d9e680"/>
<path d="M551.1,566.2 L580.9,560.3 L595.7,578.1 L586.8,595.9 L557.1,595.9Z" fill="#d9e680"/>
<path d="M884.4,537.3 L899.9,536.0 L905.0,545.0 L892.1,548.9Z" fill="#ffa60f"/>
<path d="M1222.5,488.9 L1232.8,483.8 L1238.0,494.1 L1230.2,504.4 L1222.5,501.8Z" fill="#ffa60f"/>
<path d="M1072.5,251.2 L1082.5,243.8 L1100.0,238.8 L1092.5,245.0 L1085.0,251.2 L1083.8,256.2 L1075.0,257.5Z" fill="#00a60f"/>
<path d="M1057.7,703.3 L1085.6,701.4 L1087.4,714.4 L1059.5,718.1Z" fill="#00a60f"/>
<path d="M1141.4,708.8 L1163.7,707.0 L1178.6,723.7 L1156.3,734.9 L1147.0,723.7Z" fill="#00a60f"/>
<path d="M1232.6,766.5 L1247.4,764.6 L1251.2,775.8 L1238.1,779.5Z" fill="#ffa60f"/>
<path d="M1256.7,801.9 L1269.8,805.6 L1270.9,839.1 L1260.5,835.4Z" fill="#ffa60f"/>
<path d="M538.4,200.0 L554.5,200.0 L556.4,230.1 L550.8,260.1 L540.7,260.1 L538.4,230.1Z" fill="#00a60f"/>
</g>
</g>
<path d="M1145.7,287.6 L1152.4,286.4 L1153.0,290.9 L1148.5,293.2 L1146.0,290.9Z" fill="#cc0000"/>
<path d="M1140.8,295.4 L1144.9,293.9 L1144.5,296.5 L1141.8,298.0Z" fill="#cc0000"/>
<path d="M1134.5,306.1 L1138.4,301.6 L1140.8,306.1 L1137.3,309.4Z" fill="#cc0000"/>
<path d="M1066.2,225.5 L1075.0,221.2 L1085.8,218.8 L1085.0,222.5 L1076.2,227.0 L1068.8,229.5Z" fill="#cc0000"/>
<path d="M1365.0,545.5 L1369.5,555.0 L1373.2,562.5 L1375.5,571.2 L1375.0,580.0 L1362.5,586.2 L1351.2,597.5 L1345.0,597.5 L1357.5,588.8 L1367.5,572.5 L1372.0,563.0Z" fill="#cc0000"/>
<path d="M1183.8,276.5 L1195.8,276.5 L1195.8,283.5 L1183.8,283.5Z" fill="#1a70cc"/>
<path d="M368.8,613.0 L392.5,612.5 L392.0,616.2 L380.0,618.8 L370.0,617.0Z" fill="#cc0000"/>
<path d="M373.8,615.0 L383.8,614.5 L383.8,618.0 L375.0,619.0Z" fill="#1a70cc"/>
<path d="M388.0,635.0 L391.5,635.0 L391.5,639.5 L388.0,639.5Z" fill="#1a70cc"/>
<path d="M409.5,629.5 L416.2,631.2 L417.0,635.5 L411.2,633.8Z" fill="#cc0000"/>
<path d="M409.0,641.2 L412.5,642.5 L416.2,649.5 L412.5,648.8Z" fill="#cc0000"/>
<path d="M1225.0,879.5 L1235.0,876.0 L1245.0,874.5 L1257.5,869.8 L1265.0,862.8 L1269.0,855.2" fill="none" stroke="#1a70cc" stroke-width="3" stroke-dasharray="5 4"/>
<path d="M1225.0,879.5 L1235.0,876.0 L1245.0,874.5 L1257.5,869.8 L1265.0,862.8 L1269.0,855.2" fill="none" stroke="#cc0000" stroke-width="3" stroke-dasharray="3 15" stroke-dashoffset="2"/>
<path d="M316.0,195.7 L319.9,196.8 L319.9,200.7 L324.4,201.8 L326.1,206.3 L325.0,210.8 L327.2,214.2 L328.9,218.6 L331.1,223.1 L328.9,227.6 L328.3,233.2 L328.9,238.8 L327.8,243.3 L323.3,246.7 L318.8,250.0 L314.3,252.3 L309.8,248.9 L308.2,243.3 L308.7,237.7 L312.1,232.1 L315.4,227.6 L317.7,223.1 L315.4,219.8 L316.6,215.3 L317.7,211.9 L313.2,211.9 L308.7,210.8 L307.0,207.4 L309.3,204.1 L313.2,201.8 L316.0,200.1Z" fill="#000" stroke="#000" stroke-width="1.5" stroke-linejoin="round"/>
<path d="M286.9,250.0 L295.3,250.6 L295.8,253.9 L290.8,255.1 L286.9,253.9Z" fill="#000" stroke="#000" stroke-width="1.5" stroke-linejoin="round"/>
<path d="M287.4,256.8 L291.4,257.9 L292.5,263.5 L291.9,270.2 L288.5,271.3Z" fill="#000" stroke="#000" stroke-width="1.5" stroke-linejoin="round"/>
<path d="M321.2,498.8 L328.8,497.5 L332.5,502.5 L330.0,507.5 L333.8,512.5 L336.2,518.8 L331.2,520.0 L326.2,516.2 L323.8,508.8 L322.5,503.8Z" fill="#000" stroke="#000" stroke-width="1.5" stroke-linejoin="round"/>
<path d="M1208.8,782.8 L1217.5,781.5 L1221.2,786.5 L1220.0,792.8 L1215.0,795.2 L1211.2,791.5Z" fill="#000" stroke="#000" stroke-width="1.5" stroke-linejoin="round"/>
<path d="M1220.0,811.0 L1227.5,810.2 L1228.8,816.5 L1223.8,819.0Z" fill="#000" stroke="#000" stroke-width="1.5" stroke-linejoin="round"/>
<path d="M1246.2,858.5 L1252.5,857.8 L1253.8,864.0 L1248.0,865.2Z" fill="#000" stroke="#000" stroke-width="1.5" stroke-linejoin="round"/>
<path d="M1491.2,409.2 L1498.8,408.8 L1500.0,413.0 L1493.8,414.0Z" fill="#000" stroke="#000" stroke-width="1.5" stroke-linejoin="round"/>
<path d="M1480.0,410.0 L1486.2,409.5 L1486.5,412.5 L1480.5,413.0Z" fill="#000" stroke="#000" stroke-width="1.5" stroke-linejoin="round"/>
<path d="M1116.0,282.5 L1122.7,281.4 L1128.9,282.5 L1128.3,288.1 L1123.8,290.4 L1119.3,288.7 L1116.5,286.4Z" fill="#000" stroke="#000" stroke-width="1.5" stroke-linejoin="round"/>
<path d="M1147.3,301.0 L1153.0,300.4 L1154.3,308.3 L1153.0,315.0 L1148.5,316.1 L1146.2,310.5Z" fill="#000" stroke="#000" stroke-width="1.5" stroke-linejoin="round"/>
<path d="M1485.0,398.8 L1490.0,396.2 L1493.8,391.2 L1497.5,392.5 L1499.2,398.8 L1497.5,403.8" fill="none" stroke="#000" stroke-width="3.2" stroke-linejoin="round" stroke-linecap="round"/>
<path d="M1041.2,720.0 L1047.5,716.2 L1055.0,718.8 L1057.5,723.8 L1052.5,727.0 L1045.0,726.2 L1041.2,720.0" fill="none" stroke="#000" stroke-width="3" stroke-linejoin="round" stroke-linecap="round"/>
<path d="M936.2,736.2 L942.5,732.0 L944.5,737.5 L940.5,742.5" fill="none" stroke="#000" stroke-width="4" stroke-linejoin="round" stroke-linecap="round"/>
<path d="M898.8,767.5 L905.0,763.0 L910.0,763.8 L907.5,768.8" fill="none" stroke="#000" stroke-width="4" stroke-linejoin="round" stroke-linecap="round"/>
<path d="M880.0,790.0 L885.0,786.2 L888.0,790.0 L883.8,795.0" fill="none" stroke="#000" stroke-width="4" stroke-linejoin="round" stroke-linecap="round"/>
<path d="M873.8,800.0 L880.0,797.5 L882.5,803.8 L877.5,807.5" fill="none" stroke="#000" stroke-width="4" stroke-linejoin="round" stroke-linecap="round"/>
<path d="M1334.2,476.1 L1338.7,487.3 L1334.2,494.0 L1343.2,496.2 L1352.1,505.2 L1356.6,514.2" fill="none" stroke="#000" stroke-width="4" stroke-linejoin="round" stroke-linecap="round"/>
<path d="M1349.9,469.3 L1352.1,478.3 L1349.9,487.3 L1356.6,496.2 L1361.1,505.2 L1358.9,516.4 L1363.3,527.6" fill="none" stroke="#000" stroke-width="4.5" stroke-linejoin="round" stroke-linecap="round"/>
<path d="M1340.9,503.0 L1347.7,509.7 L1356.6,518.7" fill="none" stroke="#000" stroke-width="4" stroke-linejoin="round" stroke-linecap="round"/>
<path d="M1340.9,516.4 L1347.7,520.9 L1354.4,527.6 L1361.1,532.1" fill="none" stroke="#000" stroke-width="4" stroke-linejoin="round" stroke-linecap="round"/>
<path d="M1343.2,525.4 L1352.1,532.1 L1362.2,535.5" fill="none" stroke="#000" stroke-width="4" stroke-linejoin="round" stroke-linecap="round"/>
<path d="M1365.6,464.9 L1362.2,476.1 L1365.6,487.3 L1367.8,498.5 L1366.7,509.7 L1364.5,520.9 L1363.3,529.9" fill="none" stroke="#000" stroke-width="4" stroke-linejoin="round" stroke-linecap="round"/>
<path d="M1356.6,471.6 L1358.9,482.8 L1355.5,489.5" fill="none" stroke="#000" stroke-width="3.5" stroke-linejoin="round" stroke-linecap="round"/>
<path d="M1345.4,550.1 L1345.4,563.5 L1356.6,554.6 L1365.6,556.8 L1370.1,563.5 L1365.6,572.5 L1356.6,577.0 L1347.7,574.7 L1340.9,574.7" fill="none" stroke="#000" stroke-width="4" stroke-linejoin="round" stroke-linecap="round"/>
<path d="M1338.7,586.0 L1349.9,581.5 L1356.6,586.0 L1349.9,592.7 L1343.2,590.4" fill="none" stroke="#000" stroke-width="4" stroke-linejoin="round" stroke-linecap="round"/>
<path d="M1329.7,597.2 L1336.4,592.7 L1340.9,594.9" fill="none" stroke="#000" stroke-width="3.5" stroke-linejoin="round" stroke-linecap="round"/>
<path d="M1094.1,320.1 L1100.3,313.9 L1107.0,306.1 L1113.7,301.0 L1118.2,298.2" fill="none" stroke="#000" stroke-width="4.5" stroke-linejoin="round" stroke-linecap="round"/>
<path d="M445.0,195.8 L445.0,279.2 L451.2,282.5 L457.5,288.0 L453.8,297.5 L450.0,305.0 L445.0,315.0 L440.5,323.8 L442.0,328.8 L447.0,330.0 L446.2,340.0 L445.0,345.0 L445.0,391.2 M289.5,273.8 L297.5,273.0 L305.0,274.5 L312.5,278.8 L315.5,286.2 L320.0,290.0 L327.5,291.2 L337.5,288.0 L352.5,290.0 L365.0,287.5 L380.0,283.8 L395.0,280.5 L410.0,279.5 L445.0,279.2 M283.8,391.2 L578.0,391.2 M467.0,195.8 L467.0,225.0 L470.0,231.2 L475.0,238.8 L485.0,246.2 L492.5,255.0 L500.0,260.5 L505.0,262.5 L503.8,272.5 L501.2,280.0 L500.5,287.5 L503.8,292.5 L510.0,291.2 L513.8,288.0 L517.5,292.5 L521.2,302.5 L526.2,310.0 L531.2,316.2 L535.0,322.5 L538.8,324.5 L545.0,321.2 L555.0,319.5 L565.0,318.8 L571.2,315.0 L575.0,317.0 L578.0,320.0 M578.0,308.0 L578.0,419.5 L780.0,419.5 M578.0,308.0 L735.5,308.0 M735.5,195.8 L735.5,419.5 M623.7,419.5 L623.7,690.0 M378.5,391.2 L378.5,476.2 L497.5,585.0 M512.0,391.2 L512.0,555.0 L510.0,558.8 L503.8,556.2 L497.5,558.8 L497.0,570.0 L498.8,580.0 L497.5,585.0 M497.5,585.0 L500.0,592.5 L510.0,607.5 L502.5,615.0 L500.0,625.0 L496.2,635.0 L497.5,642.5 L502.5,645.0 L501.2,650.0 L495.0,653.8 M512.0,531.2 L946.2,531.2 M780.0,419.5 L780.0,531.2 M780.0,447.5 L930.0,447.5 L935.0,450.0 M735.5,281.2 L904.0,281.2 M735.5,363.8 L858.8,363.8 L865.0,367.5 L872.5,370.0 L885.0,367.5 L895.0,371.2 L902.5,373.8 L907.5,382.5 L910.0,392.5 L912.5,403.0 M905.0,380.0 L912.5,395.0 L916.2,410.0 L917.5,425.0 L922.5,432.5 L927.5,442.5 L935.0,450.0 L940.0,452.5 L935.0,460.0 L940.0,467.5 L946.2,471.2 L946.2,545.0 M887.5,195.8 L890.0,207.5 L892.5,220.0 L896.2,232.5 L897.5,247.5 L900.0,260.0 L902.5,275.0 L903.8,281.2 L897.5,288.8 L900.0,295.0 L906.2,297.5 L906.2,350.0 M902.5,350.0 L1021.2,350.0 M902.5,350.0 L905.0,360.0 L901.2,372.5 M1000.0,261.2 L998.8,278.8 L990.0,282.5 L983.8,288.8 L986.2,297.5 L986.2,312.5 L992.5,318.8 L1002.5,325.0 L1012.5,332.5 L1020.0,340.0 L1022.0,350.0 L1025.0,357.5 L1025.0,365.0 L1032.5,372.5 L1037.5,377.5 L1042.5,385.0 L1046.2,392.5 L1045.0,400.0 M1037.5,380.0 L1046.2,390.0 L1042.5,401.2 L1030.0,406.2 L1025.0,412.5 L1027.5,420.0 L1021.2,427.5 L1017.5,433.8 L1015.0,442.5 L1020.0,455.0 L1030.0,466.2 L1035.0,476.2 L1045.0,482.5 L1041.2,492.5 L1047.5,500.0 L1057.5,510.0 L1062.5,520.0 L1063.8,527.5 L1071.2,530.0 L1068.8,537.5 L1063.8,543.8 L1060.0,550.0 L1055.0,558.8 L1051.2,567.5 L1047.5,577.5 L1045.0,587.5 M922.5,430.8 L1015.0,430.8 L1018.8,436.2 M1035.0,377.0 L1098.8,377.0 M1041.2,262.0 L1045.0,268.8 L1062.5,273.8 L1077.5,278.8 L1092.5,282.5 L1097.5,290.0 L1101.2,297.5 L1100.0,303.8 L1102.5,306.2 M1105.0,401.0 L1105.0,467.5 L1106.2,482.5 L1100.0,495.0 L1095.0,505.0 L1092.5,510.0 M1058.8,550.0 L1067.5,543.8 L1070.0,540.0 L1068.8,532.5 L1072.5,527.5 L1082.5,527.5 L1087.5,520.0 L1092.5,510.0 L1100.0,506.2 L1110.0,507.5 L1117.5,503.8 L1125.0,506.2 L1132.5,500.0 L1140.0,501.2 L1147.5,492.5 L1152.5,485.0 L1160.0,482.5 L1165.0,477.5 L1167.5,472.5 L1175.0,475.0 L1180.0,481.2 L1190.0,483.8 L1200.0,485.0 L1210.0,483.8 L1216.2,490.0 L1218.8,493.8 L1220.0,486.2 L1225.0,477.5 L1232.5,472.5 L1240.0,466.2 L1247.5,463.8 L1253.8,457.5 L1257.5,445.0 L1258.8,431.2 L1261.2,425.0 M1166.0,398.0 L1166.0,472.5 M1125.0,397.0 L1165.0,398.0 L1197.5,397.5 M1261.2,392.5 L1261.2,454.5 L1368.8,454.5 M1277.5,383.8 L1277.5,391.2 L1378.8,391.2 L1383.8,398.8 L1386.2,406.2 L1382.5,417.5 L1380.0,427.5 L1385.0,435.0 L1388.8,442.5 L1382.5,448.8 L1373.8,455.0 L1370.0,455.5 M1386.2,406.2 L1410.0,420.0 M1370.0,455.5 L1367.5,460.0 L1367.5,491.2 L1385.0,491.2 M1067.5,544.5 L1093.8,544.5 L1095.0,541.8 L1235.0,543.0 L1366.2,544.5 M1235.0,543.8 L1232.5,550.0 L1220.0,556.2 L1207.5,562.5 L1195.0,570.0 L1185.0,576.2 L1178.8,581.2 L1176.2,587.0 M1045.0,587.5 L1110.0,587.5 M1060.0,587.0 L1176.2,587.0 L1197.5,585.5 L1207.5,583.8 L1222.5,582.0 L1250.0,582.5 L1255.0,591.2 L1280.0,592.5 L1306.2,617.5 M1197.5,595.0 L1210.0,605.0 L1217.5,617.5 L1227.5,630.0 L1237.5,642.5 L1243.8,655.0 L1248.8,665.0 L1252.5,670.0 M1218.8,493.8 L1213.8,500.0 L1217.5,507.5 L1222.5,515.0 L1227.5,518.8 L1217.5,526.2 L1207.5,533.8 L1195.0,540.0 L1188.8,543.0 M1227.5,518.8 L1235.0,523.8 L1245.0,523.8 L1257.5,520.0 L1267.5,515.0 L1272.5,505.0 L1280.0,493.8 L1286.2,487.5 L1295.0,487.5 L1301.2,477.5 L1310.0,472.5 L1311.2,465.0 L1320.0,463.8 L1323.8,470.0 M1285.0,454.5 L1285.0,470.0 L1295.0,463.8 L1310.0,458.8 L1320.0,463.0 L1325.0,468.8 L1335.0,475.0 L1340.0,480.0 L1335.0,487.5 L1333.8,493.8 L1342.5,496.2 L1350.0,505.0 L1360.0,515.0 M1091.2,587.0 L1087.5,623.0 M1087.0,620.0 L1083.8,695.0 L1085.0,716.2 M1151.2,587.5 L1155.0,630.0 L1160.0,655.0 L1161.2,665.0 L1158.8,680.0 L1160.0,703.0 M1152.5,620.0 L1158.8,645.0 L1161.2,662.5 L1158.8,670.0 L1158.8,695.0 L1162.5,706.2 M1105.0,716.2 L1102.5,707.5 L1102.5,699.5 L1161.2,699.5 M1162.5,706.2 L1225.0,712.0 L1227.5,716.2 L1228.8,706.2 L1240.0,707.5 M960.0,626.0 L960.0,670.0 L963.8,680.0 L968.8,690.0 L970.0,700.0 L967.5,715.0 L965.0,727.5 L963.8,735.5 M960.0,643.2 L1023.8,643.2 M1046.5,586.5 L1033.0,600.0 L1028.0,613.0 L1025.0,626.5 L1022.5,632.5 L1026.2,645.0 L1028.8,660.0 L1023.8,670.0 L1017.5,682.5 L1013.8,692.5 L1013.0,699.5 L1056.2,699.5 L1055.0,710.0 L1058.8,720.0 L1060.0,725.0 M947.5,545.0 L1045.0,545.0 L1047.5,550.0 L1045.0,555.0 L1041.2,558.8 L1055.0,558.8 M757.8,531.2 L757.8,672.5 L678.8,672.5 M757.8,545.0 L826.2,545.0 L826.2,600.0 M824.7,599.8 L827.4,603.8 L831.4,602.5 L835.7,605.8 L839.7,604.5 L843.7,609.1 L848.4,608.5 L852.4,612.5 L857.0,611.1 L861.4,615.1 L866.4,615.8 L870.4,619.8 L875.0,619.1 L879.0,621.1 L883.0,617.8 L887.7,621.8 L891.7,619.8 L896.3,621.1 L900.3,619.1 L905.0,621.8 L909.6,621.1 L914.3,619.1 L919.6,617.8 L925.0,617.1 L929.6,616.5 L936.3,618.1 L943.0,623.1 L949.6,626.4 L957.9,628.1 M946.3,545.0 L948.6,581.7 L948.6,625.0 L959.0,626.6 L959.6,641.6 M1421.2,307.5 L1422.5,320.0 L1421.2,332.5 L1423.8,350.0 L1425.0,370.0 L1420.0,390.0 L1417.5,417.5 M1465.0,306.2 L1460.0,320.0 L1452.5,327.5 L1447.5,340.0 L1442.5,355.0 L1438.8,370.0 M1425.0,370.8 L1472.5,370.8 L1478.8,367.5 M1475.0,299.5 L1476.2,320.0 L1477.5,355.0 L1480.0,365.0 M1420.0,390.0 L1466.2,390.0 L1467.5,400.0 L1472.5,406.2 M1458.8,390.0 L1458.8,410.0 M1367.5,491.2 L1363.8,500.0 L1367.5,510.0 L1375.0,510.0" fill="none" stroke="#000" stroke-width="3.3" stroke-linejoin="round" stroke-linecap="round"/>
<path d="M317.0,195.8 L933.8,195.8 L933.8,185.5 L943.8,185.5 L946.2,202.5 L955.0,205.0 L965.0,207.0 L975.0,205.0 L985.0,206.2 L992.5,210.0 L997.5,213.8 L1006.2,215.0 L1013.8,218.8 L1021.2,220.0 L1030.0,217.0 L1035.0,219.5 L1047.5,220.0 L1062.0,223.8 L1047.5,228.8 L1035.0,235.0 L1025.0,242.5 L1015.0,250.0 L1006.2,257.5 L1000.0,261.2 L1015.0,258.8 L1027.5,255.0 L1033.8,252.5 L1041.2,251.2 L1035.0,257.5 L1031.2,261.2 L1035.0,263.8 L1042.5,262.5 L1052.5,257.5 L1062.5,255.0 L1072.5,250.0 L1082.5,243.8 L1092.5,238.8 L1101.2,238.8 L1101.2,241.2 L1092.5,245.0 L1085.0,251.2 L1083.8,256.2 L1092.5,255.0 L1102.5,257.5 L1110.0,263.8 L1122.5,266.2 L1135.0,261.2 L1150.0,260.0 L1162.5,257.5 L1163.8,263.8 L1175.0,267.5 L1180.0,266.2 L1183.2,275.5 L1184.5,280.5 L1175.0,280.0 L1170.0,282.5 L1165.0,281.2 L1160.0,278.8 L1150.0,277.5 L1140.0,278.8 L1132.5,282.5 L1127.5,285.0 L1120.0,282.5 L1115.0,285.0 L1110.0,292.5 L1106.2,298.8 L1102.5,305.0 L1098.8,312.5 L1094.5,320.0 L1098.8,317.5 L1105.0,310.0 L1111.2,301.2 L1117.5,293.8 L1121.2,292.5 L1117.5,300.0 L1112.5,308.8 L1107.5,320.0 L1103.8,330.0 L1100.0,342.5 L1097.5,357.5 L1098.8,372.5 L1100.0,385.0 L1105.0,396.2 L1108.8,401.2 L1117.5,400.0 L1125.0,396.2 L1130.0,385.0 L1135.0,372.5 L1133.8,360.0 L1130.0,350.0 L1127.5,340.0 L1130.0,330.0 L1133.8,317.5 L1140.0,310.0 L1147.5,306.2 L1155.0,300.0 L1162.5,295.0 L1161.2,287.5 L1167.5,285.0 L1175.0,288.8 L1185.0,292.5 L1195.0,297.5 L1200.0,305.0 L1198.8,317.5 L1195.0,327.5 L1190.0,335.0 L1186.2,338.8 L1186.2,345.0 L1191.2,346.2 L1197.5,340.0 L1205.0,333.8 L1212.5,335.0 L1216.2,345.0 L1218.8,360.0 L1217.5,370.0 L1212.5,375.0 L1207.5,380.0 L1202.5,390.0 L1197.5,397.5 L1207.5,406.2 L1217.5,407.5 L1230.0,403.8 L1242.5,397.5 L1252.5,393.8 L1262.5,390.0 L1275.0,383.8 L1285.0,377.5 L1296.2,370.0 L1298.8,365.0 L1295.0,360.0 L1296.2,355.0 L1312.5,353.8 L1325.0,355.0 L1337.5,353.8 L1350.0,351.2 L1358.8,347.5 L1358.8,337.5 L1355.0,333.8 L1358.8,330.0 L1367.5,320.0 L1375.0,313.8 L1385.0,308.0 L1392.5,307.0 L1465.0,306.2 L1463.8,302.5 L1470.0,299.5 L1475.0,299.5 L1480.0,292.5 L1486.2,287.5 L1491.2,278.8 L1492.5,270.0 L1497.5,260.0 L1505.0,250.0 L1515.0,238.8 L1520.0,243.8 L1528.8,242.5 L1536.2,240.5 L1547.5,250.0 L1547.5,287.5 L1555.0,292.5 L1555.0,300.0 L1562.5,303.8 L1564.5,311.2 L1560.0,316.2 L1550.0,318.8 L1540.0,322.5 L1532.5,323.8 L1523.8,323.8 L1517.5,330.0 L1510.0,336.2 L1500.0,342.5 L1492.5,346.2 L1487.5,353.8 L1482.5,361.2 L1478.8,367.5 L1480.0,372.5 L1475.0,380.0 L1472.5,385.0 L1478.8,390.0 L1483.8,396.2 L1486.2,401.2 L1482.5,406.2 L1475.0,408.8 L1458.8,410.5 L1437.5,413.0 L1417.5,418.0 L1410.0,423.8 L1410.0,420.0 L1407.5,435.0 L1407.5,447.5 L1402.5,457.5 L1395.0,467.5 L1388.8,475.0 L1386.2,476.2 L1380.0,470.0 L1375.0,462.5 L1372.5,456.2 L1375.0,465.0 L1378.8,472.5 L1383.8,482.5 L1385.0,491.2 L1382.5,500.0 L1377.5,507.5 L1372.5,515.0 L1367.5,522.5 L1363.8,527.5 L1363.8,535.0 L1367.5,545.0 L1365.0,545.0 L1368.8,555.0 L1372.5,562.5 L1367.5,572.5 L1360.0,580.0 L1350.0,590.0 L1340.0,600.0 L1330.0,605.0 L1322.5,611.2 L1320.0,617.5 L1312.5,618.8 L1305.0,621.2 L1297.5,626.2 L1292.5,632.5 L1287.5,640.0 L1277.5,647.5 L1267.5,655.0 L1256.2,660.0 L1252.5,670.0 L1246.2,685.0 L1242.5,703.0 L1240.5,705.2 L1242.5,719.0 L1246.2,736.5 L1250.0,751.5 L1255.0,766.5 L1260.0,781.5 L1265.0,794.0 L1270.0,806.5 L1273.0,819.0 L1272.5,831.5 L1271.2,844.0 L1266.2,854.0 L1263.8,860.2 L1257.5,862.8 L1247.5,862.8 L1247.5,855.2 L1242.5,846.5 L1235.0,841.5 L1231.2,834.0 L1227.5,824.0 L1222.5,815.2 L1217.5,809.0 L1213.8,799.0 L1210.0,785.2 L1211.2,776.5 L1213.8,766.5 L1211.2,756.5 L1206.2,750.2 L1198.8,742.8 L1192.5,734.0 L1185.0,726.5 L1177.5,725.2 L1172.5,730.2 L1162.5,736.0 L1152.5,736.5 L1150.0,730.2 L1142.5,721.5 L1130.0,716.5 L1115.0,716.5 L1100.0,720.2 L1097.5,718.8 L1095.0,712.5 L1092.5,705.0 L1090.0,713.8 L1086.2,716.2 L1080.0,715.0 L1067.5,716.2 L1060.0,720.0 L1065.0,725.0 L1070.0,730.0 L1066.2,736.2 L1060.0,740.0 L1066.2,746.2 L1072.5,750.0 L1071.2,755.0 L1063.8,757.0 L1061.2,751.2 L1056.2,745.0 L1052.5,743.8 L1047.5,748.8 L1040.0,750.0 L1032.5,753.8 L1026.2,748.8 L1020.0,745.0 L1015.0,740.0 L1010.0,735.0 L1005.0,733.8 L1000.0,739.5 L990.0,738.8 L980.0,735.5 L965.0,735.5 L955.0,737.5 L945.0,742.5 L937.5,747.5 L930.0,756.2 L925.0,757.5 L912.5,765.0 L900.0,772.5 L890.0,780.0 L886.2,790.0 L882.5,800.0 L882.0,810.0 L883.8,820.0 L887.5,830.0 L890.0,840.5 L885.0,842.0 L875.0,837.5 L863.8,836.2 L855.0,831.2 L846.2,827.5 L842.5,817.5 L837.5,807.5 L836.2,797.5 L830.0,790.0 L823.8,780.0 L817.5,770.0 L812.5,760.0 L807.5,750.0 L800.0,741.2 L792.5,735.0 L782.5,733.8 L772.5,732.5 L766.2,736.2 L763.8,742.5 L761.2,750.0 L756.2,756.2 L750.0,755.0 L742.5,750.0 L732.5,743.8 L725.0,736.2 L721.2,727.5 L718.8,718.8 L712.5,710.0 L702.5,702.5 L695.0,695.0 L687.5,688.8 L682.5,681.2 L678.8,676.2 L642.5,676.2 L642.5,690.0 L620.0,690.0 L642.5,690.0 L577.5,690.0 L495.0,657.5 L495.0,653.8 L442.5,656.2 L440.0,645.0 L436.2,637.5 L430.0,630.0 L421.2,622.5 L415.0,621.2 L412.5,616.2 L405.0,613.8 L397.5,611.2 L390.0,605.0 L380.0,603.8 L368.8,602.5 L365.0,597.5 L365.0,587.5 L362.5,581.2 L358.8,573.8 L351.2,567.5 L345.0,560.0 L340.0,552.5 L335.0,545.0 L336.2,535.0 L328.8,530.0 L324.5,520.0 L322.5,510.0 L321.2,501.2 L312.5,500.0 L308.8,493.8 L303.8,485.0 L297.5,477.5 L293.8,465.0 L291.2,452.5 L285.0,443.8 L280.5,436.2 L281.2,430.0 L285.0,420.0 L288.0,407.5 L286.2,397.5 L283.8,391.2 L281.2,387.5 L279.5,377.5 L277.0,367.5 L280.0,355.0 L283.8,345.0 L285.0,335.0 L286.2,320.0 L288.0,305.0 L289.5,292.5 L290.5,280.0 L289.5,273.8 L288.0,267.5 L287.5,260.0 L286.2,251.2 L283.8,242.5 L278.8,232.5 L273.8,222.5 L273.0,213.0 L285.0,216.2 L297.5,218.0 L310.0,219.5 L316.2,221.2 L318.8,230.0 L316.2,240.0 L318.8,246.2 L323.8,241.2 L325.5,227.5 L324.5,217.5 L321.2,210.0 L318.8,202.5 L317.0,195.8Z M1402.5,432.5 L1410.0,426.2 L1425.0,422.5 L1440.0,418.0 L1456.2,416.2 L1457.5,418.8 L1442.5,423.8 L1427.5,428.8 L1412.5,433.0 L1403.8,434.5Z" fill="none" stroke="#000" stroke-width="3.4" stroke-linejoin="round"/>
</svg>
<div id="lt">Relative pop. size</div>
<div class="sw" style="top:421.8px;background:#1a70cc"></div><div class="lb" style="top:421.3px">0-10</div>
<div class="sw" style="top:447.3px;background:#458c9b"></div><div class="lb" style="top:446.8px">10-20</div>
<div class="sw" style="top:472.8px;background:#7aab72"></div><div class="lb" style="top:472.3px">20-30</div>
<div class="sw" style="top:498.3px;background:#b1cd42"></div><div class="lb" style="top:497.8px">30-40</div>
<div class="sw" style="top:523.8px;background:#e5ee15"></div><div class="lb" style="top:523.3px">40-50</div>
<div class="sw" style="top:549.3px;background:#fbe000"></div><div class="lb" style="top:548.8px">50-60</div>
<div class="sw" style="top:574.8px;background:#f0a800"></div><div class="lb" style="top:574.3px">60-70</div>
<div class="sw" style="top:600.3px;background:#e67300"></div><div class="lb" style="top:599.8px">70-80</div>
<div class="sw" style="top:625.8px;background:#da3a00"></div><div class="lb" style="top:625.3px">80-90</div>
<div class="sw" style="top:651.3px;background:#cc0000"></div><div class="lb" style="top:650.8px">90-100</div>
</body></html>
